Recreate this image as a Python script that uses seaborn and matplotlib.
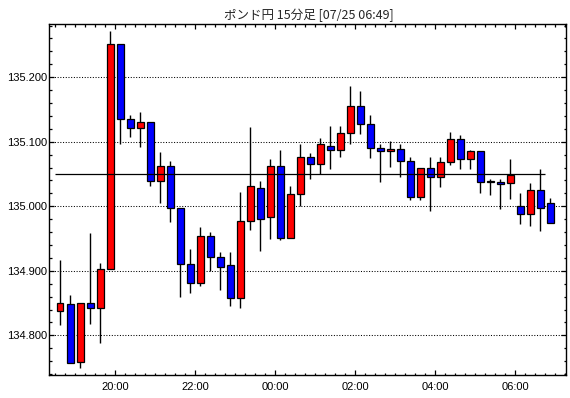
import numpy as np
import matplotlib
matplotlib.use('Agg')
import matplotlib.pyplot as plt
from matplotlib.ticker import MultipleLocator, FixedLocator
import seaborn as sns

# GBP/JPY 15 minute candles, 18:30 -> 06:45
times = ['18:30', '18:45', '19:00', '19:15', '19:30', '19:45',
         '20:00', '20:15', '20:30', '20:45', '21:00', '21:15', '21:30', '21:45',
         '22:00', '22:15', '22:30', '22:45', '23:00', '23:15', '23:30', '23:45',
         '00:00', '00:15', '00:30', '00:45', '01:00', '01:15', '01:30', '01:45',
         '02:00', '02:15', '02:30', '02:45', '03:00', '03:15', '03:30', '03:45',
         '04:00', '04:15', '04:30', '04:45', '05:00', '05:15', '05:30', '05:45',
         '06:00', '06:15', '06:30', '06:45']
opens = [134.838, 134.848, 134.759, 134.850, 134.842, 134.903,
         135.252, 135.135, 135.122, 135.130, 135.039, 135.063, 134.997, 134.910,
         134.881, 134.954, 134.921, 134.909, 134.858, 134.977, 135.028, 134.983,
         135.063, 134.951, 135.019, 135.077, 135.065, 135.094, 135.087, 135.114,
         135.156, 135.127, 135.090, 135.085, 135.088, 135.070, 135.015, 135.060,
         135.045, 135.068, 135.105, 135.073, 135.085, 135.039, 135.037, 135.036,
         135.000, 134.988, 135.025, 135.005]
highs = [134.916, 134.863, 134.850, 134.959, 134.912, 135.271,
         135.252, 135.142, 135.146, 135.131, 135.084, 135.070, 134.997, 134.934,
         134.968, 134.960, 134.929, 134.929, 135.022, 135.123, 135.039, 135.073,
         135.087, 135.031, 135.097, 135.082, 135.106, 135.124, 135.125, 135.186,
         135.178, 135.142, 135.096, 135.101, 135.096, 135.076, 135.060, 135.076,
         135.076, 135.115, 135.110, 135.087, 135.085, 135.043, 135.043, 135.073,
         135.020, 135.036, 135.058, 135.013]
lows = [134.816, 134.757, 134.749, 134.818, 134.788, 134.903,
        135.097, 135.108, 135.092, 135.032, 135.005, 134.975, 134.860, 134.865,
        134.876, 134.899, 134.870, 134.845, 134.843, 134.963, 134.931, 134.949,
        134.947, 134.951, 135.001, 135.043, 135.050, 135.057, 135.077, 135.097,
        135.112, 135.075, 135.038, 135.061, 135.046, 135.010, 135.009, 134.993,
        135.030, 135.064, 135.057, 135.057, 135.021, 135.018, 134.995, 135.012,
        134.973, 134.970, 134.962, 134.974]
closes = [134.850, 134.757, 134.850, 134.842, 134.903, 135.252,
          135.135, 135.122, 135.130, 135.039, 135.063, 134.997, 134.910, 134.881,
          134.954, 134.921, 134.906, 134.858, 134.977, 135.031, 134.981, 135.063,
          134.951, 135.019, 135.077, 135.065, 135.096, 135.087, 135.114, 135.156,
          135.127, 135.090, 135.085, 135.088, 135.070, 135.015, 135.060, 135.045,
          135.068, 135.105, 135.073, 135.085, 135.038, 135.037, 135.035, 135.049,
          134.988, 135.025, 134.997, 134.974]
prev_close = 135.050
tick_labels = ['20:00', '22:00', '00:00', '02:00', '04:00', '06:00']
title = 'ポンド円 15分足 [07/25 06:49]'


def to_hours(t):
    # hours since 18:00, wrapping past midnight
    h, m = map(int, t.split(':'))
    return ((h - 18) % 24) + m / 60


sns.set_theme(style='white')
plt.rcParams['font.family'] = ['Liberation Sans', 'DejaVu Sans']

o = np.array(opens)
c = np.array(closes)
x = np.array([to_hours(t) for t in times]) + 0.125  # candle centred in its 15 min slot
up = c >= o
colors = np.where(up, '#ff0000', '#0000ff')
body_lo = np.minimum(o, c)
body_h = np.maximum(np.abs(c - o), 0.0008)

fig = plt.figure(figsize=(5.7, 3.98), dpi=100)
ax = fig.add_axes([49.3 / 570, 23 / 398, 516.4 / 570, 350.7 / 398])

# wicks then bodies
ax.vlines(x, lows, highs, color='black', linewidth=1.0, zorder=2)
ax.bar(x, body_h, bottom=body_lo, width=0.16, color=colors,
       edgecolor='black', linewidth=0.9, zorder=3)

# previous close line
ax.hlines(prev_close, to_hours(times[0]), to_hours(times[-1]),
          color='black', linewidth=0.9, zorder=4)

ax.set_xlim(0.35, 13.26)
ax.set_ylim(134.7385, 135.282)

ax.xaxis.set_major_locator(FixedLocator([2, 4, 6, 8, 10, 12]))
ax.set_xticklabels(tick_labels)
ax.xaxis.set_minor_locator(MultipleLocator(0.25))
ax.yaxis.set_major_locator(MultipleLocator(0.1))
ax.yaxis.set_minor_locator(MultipleLocator(0.02))
ax.yaxis.set_major_formatter(plt.FormatStrFormatter('%.3f'))

ax.grid(False)
ax.grid(axis='y', which='major', color='black', linewidth=0.75,
        linestyle=(0, (1, 1.6)), zorder=1)

ax.tick_params(which='both', direction='in', top=True, right=True,
               bottom=True, left=True, color='black', width=0.9,
               labelsize=8, labelcolor='black')
ax.tick_params(which='major', length=3.6)
ax.tick_params(which='minor', length=1.8)
ax.tick_params(axis='x', which='major', pad=5)
ax.tick_params(axis='y', which='major', pad=1.5)

for s in ax.spines.values():
    s.set_color('black')
    s.set_linewidth(1.0)

fig.text(309 / 570, 1 - 15 / 398, title, ha='center', va='center',
         fontsize=9, family=['Noto Sans CJK JP', 'DejaVu Sans'])

fig.savefig('out.png', dpi=100, facecolor='white')
